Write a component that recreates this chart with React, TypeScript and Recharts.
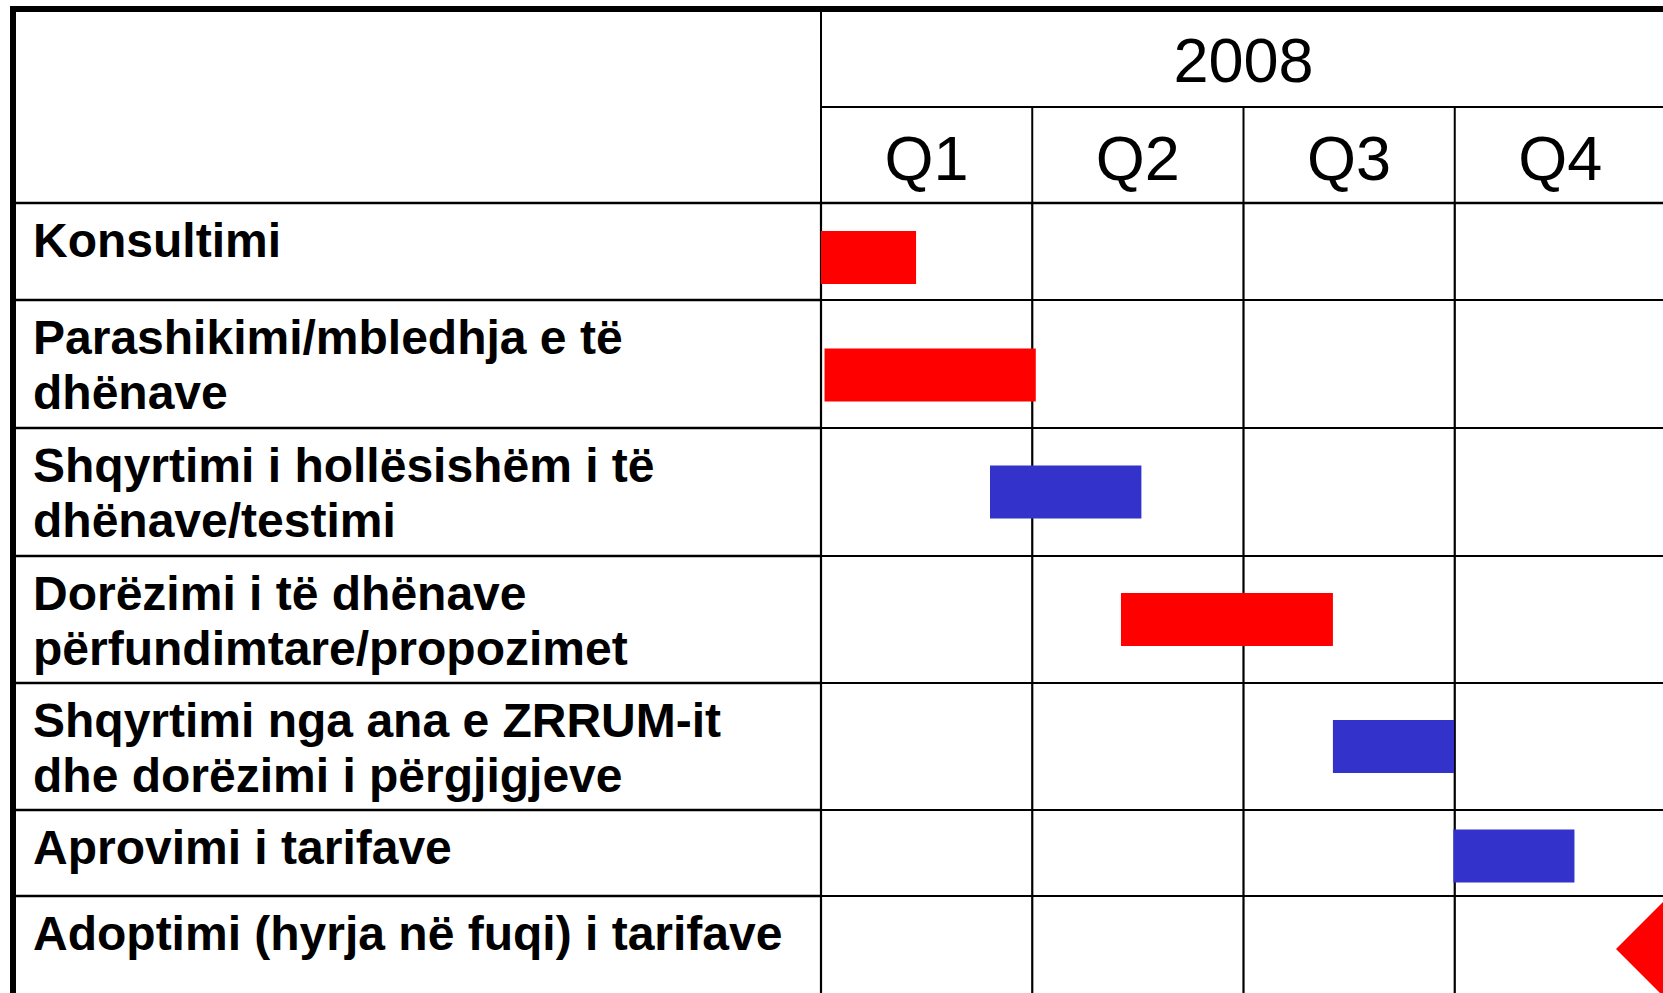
import React from 'react';
import { ComposedChart, Bar, Scatter, XAxis, YAxis, CartesianGrid, Cell } from 'recharts';

const YEAR = '2008';
const QUARTERS = ['Q1', 'Q2', 'Q3', 'Q4'];
const QUARTER_START_MONTH = [0, 3, 6, 9, 12];

const TASK_LINES = [
  ['Konsultimi'],
  ['Parashikimi/mbledhja e të', 'dhënave'],
  ['Shqyrtimi i hollësishëm i të', 'dhënave/testimi'],
  ['Dorëzimi i të dhënave', 'përfundimtare/propozimet'],
  ['Shqyrtimi nga ana e ZRRUM-it', 'dhe dorëzimi i përgjigjeve'],
  ['Aprovimi i tarifave'],
  ['Adoptimi (hyrja në fuqi) i tarifave'],
];
// months from the start of the year
const START_MONTH = [0, 0.05, 2.4, 4.26, 7.27, 8.98];
const END_MONTH = [1.35, 3.05, 4.55, 7.27, 8.99, 10.7];
const GROUP = ['operator', 'operator', 'ZRRUM', 'operator', 'ZRRUM', 'ZRRUM'];
const MILESTONE_MONTH = 12;

// ---- layout ----
const FONT = '"Liberation Sans", Arial, Helvetica, sans-serif';
const TABLE_LEFT = 13;
const TABLE_TOP = 9;
const YEAR_ROW_H = 98;
const QUARTER_ROW_H = 96;
const LABEL_COL_W = 808;
const PLOT_W = 845;
const ROW_H = [97, 128, 128, 127, 127, 86, 106];
// bars sit slightly below the middle of some rows in the original slide
const BAR_SHIFT = [6, 11, 0, 0, 0, 3, 0];
const BAR_H = 53;
const DIAMOND_R = 50;
const GROUP_COLOR: Record<string, string> = { operator: '#FF0000', ZRRUM: '#3333CC' };

const YEAR_BOTTOM = TABLE_TOP + YEAR_ROW_H;
const HEADER_BOTTOM = YEAR_BOTTOM + QUARTER_ROW_H;
const ROW_TOPS = ROW_H.map((_, i) => ROW_H.slice(0, i).reduce((a, b) => a + b, 0));
const ROWS_TOTAL = ROW_H.reduce((a, b) => a + b, 0);

const CHART_W = TABLE_LEFT + LABEL_COL_W + PLOT_W + 34;
const CHART_H = HEADER_BOTTOM + ROWS_TOTAL + 8;

const barData = START_MONTH.map((s, i) => ({
  task: TASK_LINES[i].join(' '),
  row: ROW_TOPS[i] + ROW_H[i] / 2 + BAR_SHIFT[i],
  span: [s, END_MONTH[i]],
  group: GROUP[i],
}));

const milestoneData = [
  {
    task: TASK_LINES[6].join(' '),
    row: ROW_TOPS[6] + ROW_H[6] / 2 + BAR_SHIFT[6],
    at: MILESTONE_MONTH,
  },
];

function QuarterTick(props: any) {
  const { x, payload } = props;
  const i = QUARTER_START_MONTH.indexOf(payload.value);
  return (
    <g>
      <line x1={x} x2={x} y1={YEAR_BOTTOM} y2={HEADER_BOTTOM} stroke="#000" strokeWidth={2} />
      {i >= 0 && i < QUARTERS.length && (
        <text x={x + PLOT_W / 8} y={HEADER_BOTTOM - 23} textAnchor="middle" fontSize={63} fontFamily={FONT} fill="#000">
          {QUARTERS[i]}
        </text>
      )}
    </g>
  );
}

function YearTick(props: any) {
  const { x, payload } = props;
  if (payload.value === 0) {
    return <line x1={x} x2={x} y1={TABLE_TOP} y2={YEAR_BOTTOM} stroke="#000" strokeWidth={2} />;
  }
  return (
    <text x={x} y={TABLE_TOP + 73} textAnchor="middle" fontSize={63} fontFamily={FONT} fill="#000">
      {YEAR}
    </text>
  );
}

function RowTick(props: any) {
  const { y, payload } = props;
  const i = ROW_TOPS.indexOf(payload.value);
  const lines = TASK_LINES[i] || [];
  return (
    <g>
      <line x1={TABLE_LEFT} x2={TABLE_LEFT + LABEL_COL_W} y1={y} y2={y} stroke="#000" strokeWidth={2.5} />
      {lines.map((ln, k) => (
        <text key={k} x={33} y={y + 54 + k * 55} fontSize={48} fontWeight="bold" fontFamily={FONT} fill="#000">
          {ln}
        </text>
      ))}
    </g>
  );
}

function Diamond(props: any) {
  const { cx, cy } = props;
  const r = DIAMOND_R;
  return <polygon points={`${cx},${cy - r} ${cx + r},${cy} ${cx},${cy + r} ${cx - r},${cy}`} fill="#FF0000" />;
}

export default function App() {
  return (
    <div style={{ position: 'fixed', left: 0, top: 0, width: 1663, height: 993, overflow: 'hidden', background: '#fff' }}>
      <ComposedChart
        width={CHART_W}
        height={CHART_H}
        data={barData}
        layout="vertical"
        margin={{ top: TABLE_TOP, left: TABLE_LEFT, right: 34, bottom: 8 }}
      >
        <CartesianGrid stroke="#000" strokeWidth={2.2} />
        <XAxis
          type="number"
          orientation="top"
          domain={[0, 12]}
          ticks={QUARTER_START_MONTH}
          interval={0}
          allowDataOverflow
          height={QUARTER_ROW_H}
          tickLine={false}
          axisLine={{ stroke: '#000', strokeWidth: 2.5 }}
          tick={<QuarterTick />}
        />
        <XAxis
          xAxisId="year"
          type="number"
          orientation="top"
          domain={[0, 12]}
          ticks={[0, 6]}
          interval={0}
          allowDataOverflow
          height={YEAR_ROW_H}
          tickLine={false}
          axisLine={{ stroke: '#000', strokeWidth: 2 }}
          tick={<YearTick />}
        />
        <YAxis
          type="number"
          dataKey="row"
          domain={[0, ROWS_TOTAL]}
          ticks={ROW_TOPS}
          interval={0}
          allowDataOverflow
          width={LABEL_COL_W}
          tickLine={false}
          axisLine={false}
          tick={<RowTick />}
        />
        <Bar dataKey="span" barSize={BAR_H} isAnimationActive={false}>
          {barData.map((d, i) => (
            <Cell key={i} fill={GROUP_COLOR[d.group]} />
          ))}
        </Bar>
        <Scatter data={milestoneData} dataKey="at" shape={<Diamond />} isAnimationActive={false} />
      </ComposedChart>
      <div
        style={{
          position: 'absolute',
          left: TABLE_LEFT - 3,
          top: TABLE_TOP - 3,
          width: 1700,
          height: 1100,
          borderTop: '6px solid #000',
          borderLeft: '6px solid #000',
          pointerEvents: 'none',
        }}
      />
    </div>
  );
}
